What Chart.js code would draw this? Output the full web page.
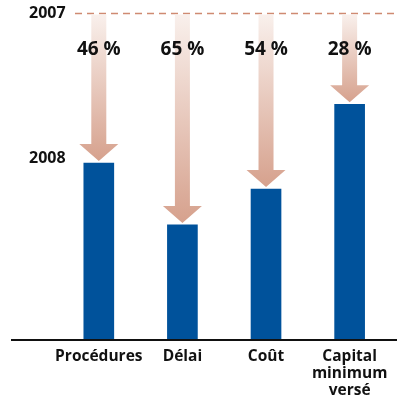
<!DOCTYPE html>
<html>
<head>
<meta charset="utf-8">
<script src="https://cdn.jsdelivr.net/npm/chart.js@4/dist/chart.umd.min.js"></script>
<style>
  html, body { margin: 0; padding: 0; background: #fff; }
  #wrap { width: 397px; height: 402px; }
</style>
</head>
<body>
<div id="wrap"><canvas id="c"></canvas></div>
<script>
// indicateurs, base 2007 = 100
const categories = ['Procédures', 'Délai', 'Coût', ['Capital', 'minimum', 'versé']];
const index2008 = [54, 35, 46, 72];
const baisse = [46, 65, 54, 28];          // réduction en %
const yearLabels = ['2007', '2008'];
const yearValues = [100, 55.5];           // hauteur des libellés d'année

const FONT = '"Open Sans", "Liberation Sans", sans-serif';
const BLUE = '#00529b';

// ligne pointillée 2007, axe de base, libellés d'année, flèches
const refLines = {
  id: 'refLines',
  beforeDatasetsDraw(chart) {
    const { ctx, scales: { y }, width } = chart;
    const y100 = Math.round(y.getPixelForValue(100)) + 0.5;
    ctx.save();
    ctx.strokeStyle = '#cf8a72';
    ctx.lineWidth = 1.3;
    ctx.setLineDash([7, 5]);
    ctx.beginPath();
    ctx.moveTo(75, y100);
    ctx.lineTo(width, y100);
    ctx.stroke();
    ctx.setLineDash([]);

    ctx.fillStyle = '#111';
    ctx.font = 'bold 16px ' + FONT;
    ctx.textAlign = 'left';
    ctx.textBaseline = 'middle';
    yearLabels.forEach((t, i) => ctx.fillText(t, 29, y.getPixelForValue(yearValues[i])));

    const meta = chart.getDatasetMeta(0);
    meta.data.forEach((bar) => {
      const x = bar.x;
      const top = y100 + 1;
      const tip = bar.y - 2;
      const sw = 15, hw = 39, hh = 17;
      const g = ctx.createLinearGradient(0, top, 0, tip);
      g.addColorStop(0, '#f9f0ec');
      g.addColorStop(1, '#d6a18d');
      ctx.fillStyle = g;
      ctx.beginPath();
      ctx.moveTo(x - sw / 2, top);
      ctx.lineTo(x + sw / 2, top);
      ctx.lineTo(x + sw / 2, tip - hh);
      ctx.lineTo(x + hw / 2, tip - hh);
      ctx.lineTo(x, tip);
      ctx.lineTo(x - hw / 2, tip - hh);
      ctx.lineTo(x - sw / 2, tip - hh);
      ctx.closePath();
      ctx.fill();
    });
    ctx.restore();
  },
  afterDatasetsDraw(chart) {
    const { ctx, scales: { y }, width } = chart;
    const y0 = Math.round(y.getPixelForValue(0));
    ctx.save();
    ctx.fillStyle = '#111';
    ctx.fillRect(11, y0, width - 11, 2);

    ctx.font = 'bold 19px ' + FONT;
    ctx.textAlign = 'center';
    ctx.textBaseline = 'middle';
    chart.getDatasetMeta(0).data.forEach((bar, i) => {
      ctx.fillText(baisse[i] + ' %', bar.x, 50);
    });
    ctx.restore();
  }
};

document.fonts.load('bold 16px "Open Sans"').finally(() => {
  new Chart(document.getElementById('c'), {
    type: 'bar',
    data: {
      labels: categories,
      datasets: [{
        data: index2008,
        backgroundColor: BLUE,
        barThickness: 30,
        borderWidth: 0
      }]
    },
    options: {
      responsive: true,
      maintainAspectRatio: false,
      animation: false,
      layout: { padding: { left: 57, right: 5, top: 13, bottom: 0 } },
      plugins: { legend: { display: false }, tooltip: { enabled: false } },
      scales: {
        x: {
          grid: { display: false, drawTicks: false },
          border: { display: false },
          ticks: {
            color: '#111',
            padding: 9,
            maxRotation: 0,
            autoSkip: false,
            font: { family: FONT, weight: 'bold', size: 15.5, lineHeight: 1.1 }
          },
          afterFit(scale) { scale.height = 63; }
        },
        y: {
          display: false,
          min: 0,
          max: 100
        }
      }
    },
    plugins: [refLines]
  });
});
</script>
</body>
</html>
